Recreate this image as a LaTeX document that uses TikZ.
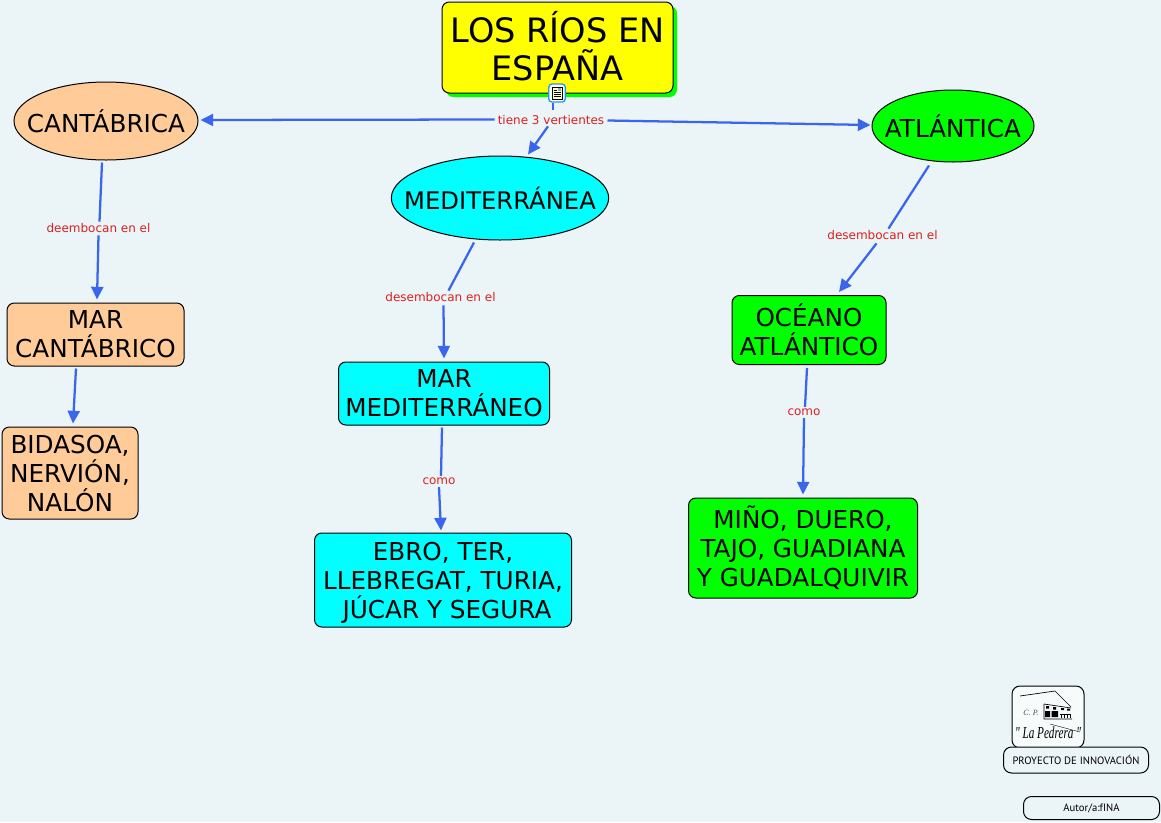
\documentclass[tikz,border=0pt]{standalone}
\usepackage{fontspec}
\setmainfont{DejaVu Sans}
\newfontfamily\smallfont{PT Sans}
\newfontfamily\logofont[ItalicFont=Liberation Serif Italic]{Liberation Serif}
\usetikzlibrary{arrows.meta,shapes.geometric}
\definecolor{bgc}{HTML}{EBF4F7}
\definecolor{peach}{HTML}{FFCC99}
\definecolor{aqua}{HTML}{00FFFF}
\definecolor{lime}{HTML}{00FF00}
\definecolor{yell}{HTML}{FFFF00}
\definecolor{linkc}{HTML}{3A66EE}
\definecolor{labelc}{HTML}{DD1F1F}
\newcommand\tx[2]{\raisebox{#1}[0pt][0pt]{\vbox{\lineskiplimit=-100pt\let\\=\cr\halign{\hfil##\hfil\cr#2\cr}}}}
\tikzset{
 x=0.75pt,y=-0.75pt,
 conc/.style={draw=black,line width=0.75pt,rounded corners=5.5pt,inner sep=0pt,anchor=center,font=\fontsize{18.5}{21.75}\selectfont},
 ell/.style={draw=black,line width=0.75pt,ellipse,inner sep=0pt,font=\fontsize{18.5}{21.75}\selectfont},
 linklabel/.style={text=labelc,font=\fontsize{9}{11}\selectfont,inner sep=0pt},
 linkline/.style={draw=linkc,line width=1.7pt},
 arrowline/.style={linkline,-{Triangle[length=9.5pt,width=9pt]}},
 smallbox/.style={draw=black,line width=0.75pt,rounded corners=6pt,inner sep=0pt,font=\smallfont\fontsize{8}{9}\selectfont},
}
\begin{document}
\begin{tikzpicture}
\useasboundingbox (0,0) rectangle (1161,822);
\fill[bgc] (0,0) rectangle (1161,822);
% title
\fill[lime,rounded corners=5.5pt] (446,6) rectangle (677,97);
\node[conc,fill=yell,minimum width=173.25pt,minimum height=68.25pt,font=\fontsize{25.2}{28.5}\selectfont] (title) at (557.5,47.5) {\tx{-24.6pt}{LOS RÍOS EN\\ESPAÑA}};
% concept nodes
\node[ell,fill=peach,minimum width=138pt,minimum height=58.5pt] (cant) at (106,121) {\makebox[0pt]{\raisebox{-1pt}{CANTÁBRICA}}};
\node[ell,fill=aqua,minimum width=163pt,minimum height=63pt,font=\fontsize{18.2}{21.75}\selectfont] (med) at (500,198) {\makebox[0pt]{MEDITERRÁNEA}};
\node[ell,fill=lime,minimum width=121.5pt,minimum height=54pt] (atl) at (953,126) {\makebox[0pt]{\raisebox{-1pt}{ATLÁNTICA}}};
\node[conc,fill=peach,minimum width=132.75pt,minimum height=47.25pt] (marcant) at (95.5,334.5) {\tx{-17.6pt}{MAR\\CANTÁBRICO}};
\node[conc,fill=peach,minimum width=102pt,minimum height=69pt] (bid) at (70,473) {\tx{-28.5pt}{BIDASOA,\\NERVIÓN,\\NALÓN}};
\node[conc,fill=aqua,minimum width=158.25pt,minimum height=47.25pt] (marmed) at (444,393.5) {\tx{-17.6pt}{MAR\\MEDITERRÁNEO}};
\node[conc,fill=aqua,minimum width=192.75pt,minimum height=70.5pt] (ebro) at (443,580) {\tx{-28.5pt}{EBRO, TER,\\LLEBREGAT, TURIA,\\\hspace*{6pt}JÚCAR Y SEGURA}};
\node[conc,fill=lime,minimum width=115.5pt,minimum height=51.75pt] (oce) at (809,330) {\tx{-19.2pt}{OCÉANO\\ATLÁNTICO}};
\node[conc,fill=lime,minimum width=171.75pt,minimum height=75pt] (mino) at (803,548) {\tx{-28.5pt}{MIÑO, DUERO,\\TAJO, GUADIANA\\Y GUADALQUIVIR}};
% link labels
\node[linklabel] (l0) at (551,120.5) {tiene 3 vertientes};
\node[linklabel] (l1) at (98.5,228.5) {deembocan en el};
\node[linklabel] (l2) at (440.5,297.5) {desembocan en el};
\node[linklabel] (l3) at (882.5,235.5) {desembocan en el};
\node[linklabel] (l4) at (439,481.5) {como};
\node[linklabel] (l5) at (804,412.5) {como};
% icon
\node[draw=linkc!70!cyan,fill=white,line width=1pt,rounded corners=2.5pt,minimum width=12.5pt,minimum height=13.5pt,inner sep=0pt] (icon) at (557,93) {};
\fill[yell!25] (552,87) rectangle (562,99);
\draw[black,line width=0.6pt] (552,87) rectangle (562,99);
\draw[black,line width=0.5pt] (553.5,90) -- (557,90) (553.5,92.5) -- (560.5,92.5) (553.5,94.5) -- (560.5,94.5) (553.5,96.5) -- (560.5,96.5);
\fill[linkc!60] (558,88) rectangle (561,91);
% connectors
\draw[linkline] ([shift={(-4,0)}]icon.south) -- ([shift={(2,-6)}]l0.north);
\draw[arrowline] ([shift={(-3,-1)}]l0.west) -- ([shift={(2,-1)}]cant.east);
\draw[arrowline] ([shift={(3,0)}]l0.east) -- ([shift={(-1,-1)}]atl.west);
\draw[arrowline] ([shift={(-3,1)}]l0.south) -- ([shift={(28,-1)}]med.north);
\draw[linkline] ([shift={(-4,2)}]cant.south) -- ([shift={(1,-2)}]l1.north);
\draw[arrowline] ([shift={(0,2)}]l1.south) -- ([shift={(1.5,-3)}]marcant.north);
\draw[linkline] ([shift={(-26,2)}]med.south) -- ([shift={(8,-2)}]l2.north);
\draw[arrowline] ([shift={(3,3)}]l2.south) -- ([shift={(0,-3)}]marmed.north);
\draw[linkline] ([shift={(-2,2)}]marmed.south) -- ([shift={(2,-2)}]l4.north);
\draw[arrowline] ([shift={(0,2)}]l4.south) -- ([shift={(-2,-2)}]ebro.north);
\draw[linkline] ([shift={(-24,3)}]atl.south) -- ([shift={(6,-2)}]l3.north);
\draw[arrowline] ([shift={(-6,3)}]l3.south) -- ([shift={(30,-3)}]oce.north);
\draw[linkline] ([shift={(-2,3)}]oce.south) -- ([shift={(1,-2)}]l5.north);
\draw[arrowline] ([shift={(0,2)}]l5.south) -- ([shift={(0,-3)}]mino.north);
\draw[arrowline] ([shift={(-19.5,2)}]marcant.south) -- ([shift={(3,-3)}]bid.north);
% bottom
\node[smallbox,fill=bgc!40!white,minimum width=54pt,minimum height=46.5pt] (logo) at (1048,717) {};
\draw[black,line width=0.5pt] (1020,696) -- (1055,691) -- (1071,707);
\draw[black,line width=0.5pt] (1044,704) -- (1071,708) (1044,704) -- (1044,719) -- (1072,719);
\fill[black] (1045,711) rectangle (1050,717) (1051.5,711) rectangle (1058,717);
\fill[black] (1046,706) rectangle (1049,708.5) (1053,707) rectangle (1056,709.5) (1061,708) rectangle (1064,710) (1067,708.5) rectangle (1070,710.5);
\draw[black,line width=0.5pt] (1060,714) -- (1071,714) (1061,714) -- (1061,718) (1064,714) -- (1064,718) (1067,714) -- (1067,718) (1070,714) -- (1070,718);
\draw[black,line width=0.3pt] (1050,724) -- (1080,732);
\node[font=\logofont\itshape\fontsize{6}{7}\selectfont,inner sep=0pt,text=black!70] (cp) at (1031,713) {C. P.};
\node[font=\logofont\itshape\fontsize{8.4}{10}\selectfont,inner sep=0pt] (pedrera) at (1048,733) {\scalebox{1}[1.5]{" La Pedrera "}};
\node[smallbox,fill=bgc,minimum width=108.75pt,minimum height=19.5pt] (proy) at (1076,760) {PROYECTO DE INNOVACIÓN};
\node[smallbox,fill=bgc,minimum width=102pt,minimum height=17.25pt] (aut) at (1091.5,808) {Autor/a:fINA};
\end{tikzpicture}
\end{document}
